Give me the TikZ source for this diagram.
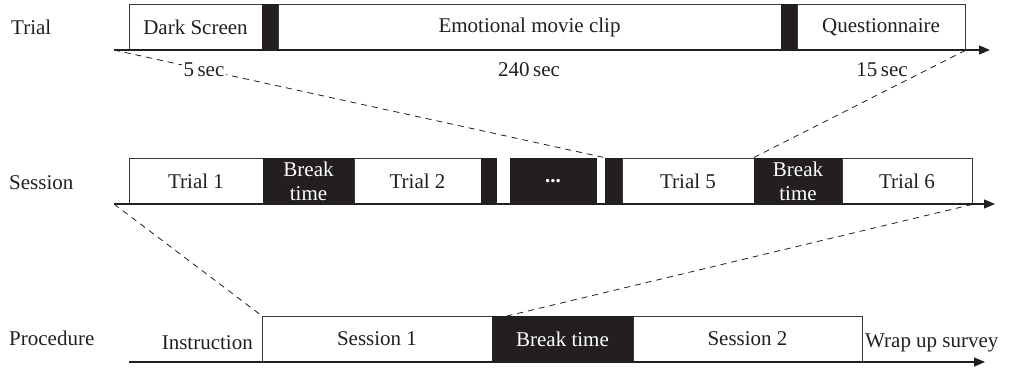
\documentclass[tikz,border=0pt]{standalone}
\usepackage{fontspec}
\setmainfont{Liberation Serif}
\usetikzlibrary{arrows.meta}
\definecolor{ink}{HTML}{231F20}
\definecolor{edge}{HTML}{3A3A3A}
\tikzset{
  seg/.style={draw=edge, line width=0.8pt, fill=white, inner sep=0pt, minimum height=46pt, text=ink, align=center},
  blk/.style={seg, fill=ink, draw=ink, text=white},
  axis/.style={draw=ink, line width=1.3pt, -{Triangle[length=11pt,width=9pt]}},
  guide/.style={draw=ink, line width=0.8pt, dash pattern=on 6pt off 5pt},
  lbl/.style={text=ink, inner sep=1pt},
  dur/.style={text=ink, fill=white, inner sep=2pt},
}
\begin{document}
\begin{tikzpicture}[x=1pt, y=-1pt, font=\fontsize{21}{24}\selectfont]
\useasboundingbox (0,0) rectangle (1010,368);
% ---- Trial row
\node[lbl, anchor=west] (ltrial) at (10,27) {Trial};
\node[seg, minimum width=133pt] (ds) at (195.5,27) {Dark Screen};
\node[blk, minimum width=16pt] (tb1) at (270,27) {};
\node[seg, minimum width=503pt] (mv) at (529.5,27) {Emotional movie clip};
\node[blk, minimum width=16pt] (tb2) at (789,27) {};
\node[seg, minimum width=168pt] (qs) at (881,27) {Questionnaire};
\coordinate (ta0) at (114,50);
\coordinate (ta1) at (990,50);
% ---- Session row
\node[lbl, anchor=west] (lsession) at (8,183) {Session};
\node[seg, minimum width=134pt] (t1) at (196,181) {Trial 1};
\node[blk, minimum width=91pt] (sb1) at (308.5,181) {Break\\time};
\node[seg, minimum width=127pt] (t2) at (417.5,181) {Trial 2};
\node[blk, minimum width=15pt] (k1) at (488.5,181) {};
\node[blk, minimum width=86pt] (dots) at (553,181) {\textbf{...}};
\node[blk, minimum width=17pt] (k2) at (613.5,181) {};
\node[seg, minimum width=132pt] (t5) at (688,181) {Trial 5};
\node[blk, minimum width=88pt] (sb2) at (798,181) {Break\\time};
\node[seg, minimum width=130pt] (t6) at (907,181) {Trial 6};
\coordinate (sa0) at (114,204);
\coordinate (sa1) at (995,204);
% ---- Procedure row
\node[lbl, anchor=west] (lproc) at (8,338) {Procedure};
\node[seg, minimum width=230pt] (s1) at (377,339) {Session 1};
\node[blk, minimum width=141pt] (pb) at (562.5,339) {Break time};
\node[seg, minimum width=229pt] (s2) at (747.5,339) {Session 2};
\node[lbl, anchor=east] (instr) at (254,343) {Instruction};
\node[lbl, anchor=west] (wrap) at (864,343) {Wrap up survey};
\coordinate (pa0) at (129,362);
\coordinate (pa1) at (985,362);
\coordinate (pbt) at (507,316);
% ---- axes
\draw[axis] (ta0) -- (ta1);
\draw[axis] (sa0) -- (sa1);
\draw[axis] (pa0) -- (pa1);
% ---- zoom guides
\draw[guide] (ta0) -- (k2.north west);
\draw[guide] (qs.south east) -- (sb2.north west);
\draw[guide] (sa0) -- (s1.north west);
\draw[guide] (t6.south east) -- (pbt);
% ---- durations
\node[dur] (d5) at (204,70) {5\,sec};
\node[dur] (d240) at (529,70) {240\,sec};
\node[dur] (d15) at (882,70) {15\,sec};
\end{tikzpicture}
\end{document}
